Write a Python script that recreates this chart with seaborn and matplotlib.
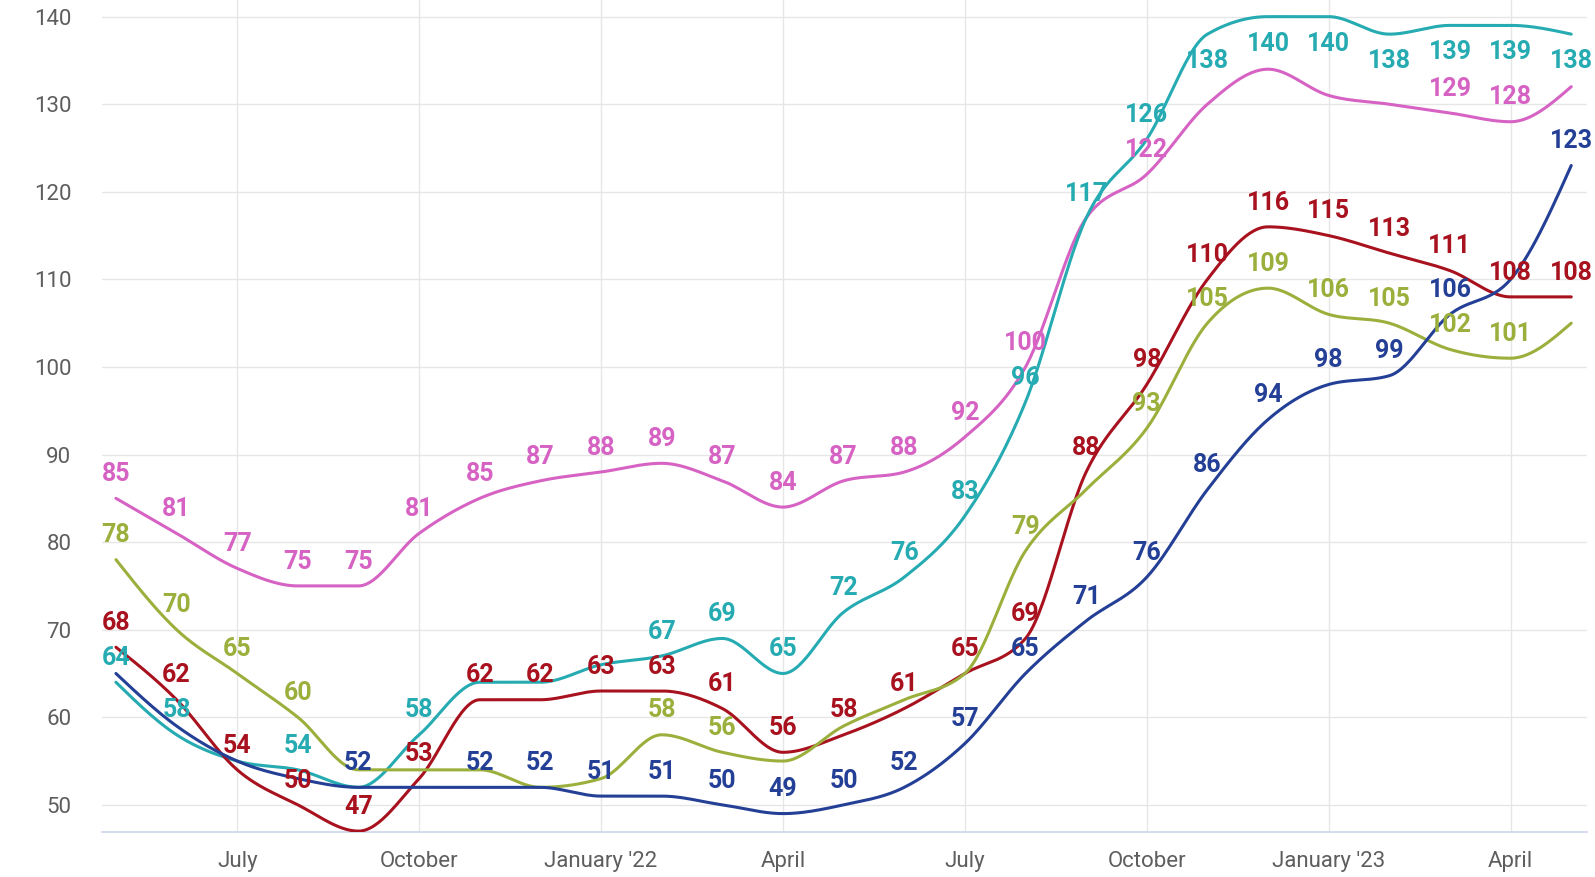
import numpy as np
import pandas as pd
import matplotlib.pyplot as plt
import seaborn as sns

# ---- data (monthly, May 2021 -> May 2023) ----
months = ['2021-05', '2021-06', '2021-07', '2021-08', '2021-09', '2021-10', '2021-11',
          '2021-12', '2022-01', '2022-02', '2022-03', '2022-04', '2022-05', '2022-06',
          '2022-07', '2022-08', '2022-09', '2022-10', '2022-11', '2022-12', '2023-01',
          '2023-02', '2023-03', '2023-04', '2023-05']

pink = [85, 81, 77, 75, 75, 81, 85, 87, 88, 89, 87, 84, 87, 88, 92, 100, 117, 122,
        130, 134, 131, 130, 129, 128, 132]
teal = [64, 58, 55, 54, 52, 58, 64, 64, 66, 67, 69, 65, 72, 76, 83, 96, 117, 126,
        138, 140, 140, 138, 139, 139, 138]
red = [68, 62, 54, 50, 47, 53, 62, 62, 63, 63, 61, 56, 58, 61, 65, 69, 88, 98,
       110, 116, 115, 113, 111, 108, 108]
olive = [78, 70, 65, 60, 54, 54, 54, 52, 53, 58, 56, 55, 59, 62, 65, 79, 86, 93,
         105, 109, 106, 105, 102, 101, 105]
blue = [65, 59, 55, 53, 52, 52, 52, 52, 51, 51, 50, 49, 50, 52, 57, 65, 71, 76,
        86, 94, 98, 99, 106, 110, 123]

# labels the chart hides because they overlap
pink_hidden = [16, 18, 19, 20, 21, 24]
teal_hidden = [2, 4, 6, 7, 8]
red_hidden = []
olive_hidden = [4, 5, 6, 7, 8, 11, 12, 13, 14, 16, 24]
blue_hidden = [0, 1, 2, 3, 5, 23]

tick_pos = [2, 5, 8, 11, 14, 17, 20, 23]
tick_labels = ['July', 'October', "January '22", 'April', 'July', 'October', "January '23", 'April']

series = {
    'pink': (pink, pink_hidden, '#d663c3'),
    'teal': (teal, teal_hidden, '#25abb1'),
    'red': (red, red_hidden, '#a8121f'),
    'olive': (olive, olive_hidden, '#9bb03c'),
    'blue': (blue, blue_hidden, '#243f96'),
}


def monotone_x(xs, ys, n=30):
    # same curve as d3.curveMonotoneX
    xs = np.asarray(xs, float)
    ys = np.asarray(ys, float)
    h = np.diff(xs)
    s = np.diff(ys) / h
    t = np.zeros_like(ys)
    for i in range(1, len(ys) - 1):
        p = (s[i - 1] * h[i] + s[i] * h[i - 1]) / (h[i - 1] + h[i])
        t[i] = (np.sign(s[i - 1]) + np.sign(s[i])) * min(abs(s[i - 1]), abs(s[i]), 0.5 * abs(p))
    t[0] = (3 * s[0] - t[1]) / 2
    t[-1] = (3 * s[-1] - t[-2]) / 2
    out_x, out_y = [], []
    for i in range(len(h)):
        u = np.linspace(0, 1, n, endpoint=(i == len(h) - 1))
        h00 = 2 * u**3 - 3 * u**2 + 1
        h10 = u**3 - 2 * u**2 + u
        h01 = -2 * u**3 + 3 * u**2
        h11 = u**3 - u**2
        out_x.append(xs[i] + u * h[i])
        out_y.append(h00 * ys[i] + h10 * h[i] * t[i] + h01 * ys[i + 1] + h11 * h[i] * t[i + 1])
    return np.concatenate(out_x), np.concatenate(out_y)


x_idx = np.arange(len(months))
frames = []
for name, (vals, _, _) in series.items():
    sx, sy = monotone_x(x_idx, vals)
    frames.append(pd.DataFrame({'x': sx, 'y': sy, 'serie': name}))
df = pd.concat(frames, ignore_index=True)

sns.set_theme(style='white')
plt.rcParams['font.family'] = ['Roboto', 'DejaVu Sans']

fig = plt.figure(figsize=(15.95, 8.77), dpi=100)
ax = fig.add_axes([102 / 1595, 1 - 832 / 877, 1485 / 1595, 832 / 877])

palette = {k: v[2] for k, v in series.items()}
sns.lineplot(data=df, x='x', y='y', hue='serie', palette=palette, estimator=None,
             sort=False, linewidth=2.2, legend=False, ax=ax, zorder=3)

ymin, ymax = 46.9, 141.9
ax.set_ylim(ymin, ymax)
ax.set_xlim(-0.23, 24.26)

# value labels
for name, (vals, hidden, col) in series.items():
    for i, v in enumerate(vals):
        if i in hidden:
            continue
        dy = -19.5 if v > ymax - 5 else 17.5
        ax.annotate(str(v), (i, v), xytext=(0, dy), textcoords='offset points',
                    ha='center', va='center', color=col, fontsize=18,
                    fontweight='bold', zorder=5)

ax.set_yticks(range(50, 141, 10))
ax.set_xticks(tick_pos)
ax.set_xticklabels(tick_labels)
ax.tick_params(axis='y', length=0, pad=22, labelsize=16, labelcolor='#5e5e5e')
ax.tick_params(axis='x', length=0, pad=14, labelsize=16, labelcolor='#5e5e5e')
ax.grid(True, axis='both', color='#e6e6e6', linewidth=1, zorder=0)
ax.set_axisbelow(True)
for side in ['top', 'left', 'right']:
    ax.spines[side].set_visible(False)
ax.spines['bottom'].set_color('#ccd6eb')
ax.spines['bottom'].set_linewidth(1.2)
ax.set_xlabel('')
ax.set_ylabel('')

fig.savefig('out.png', dpi=100)
